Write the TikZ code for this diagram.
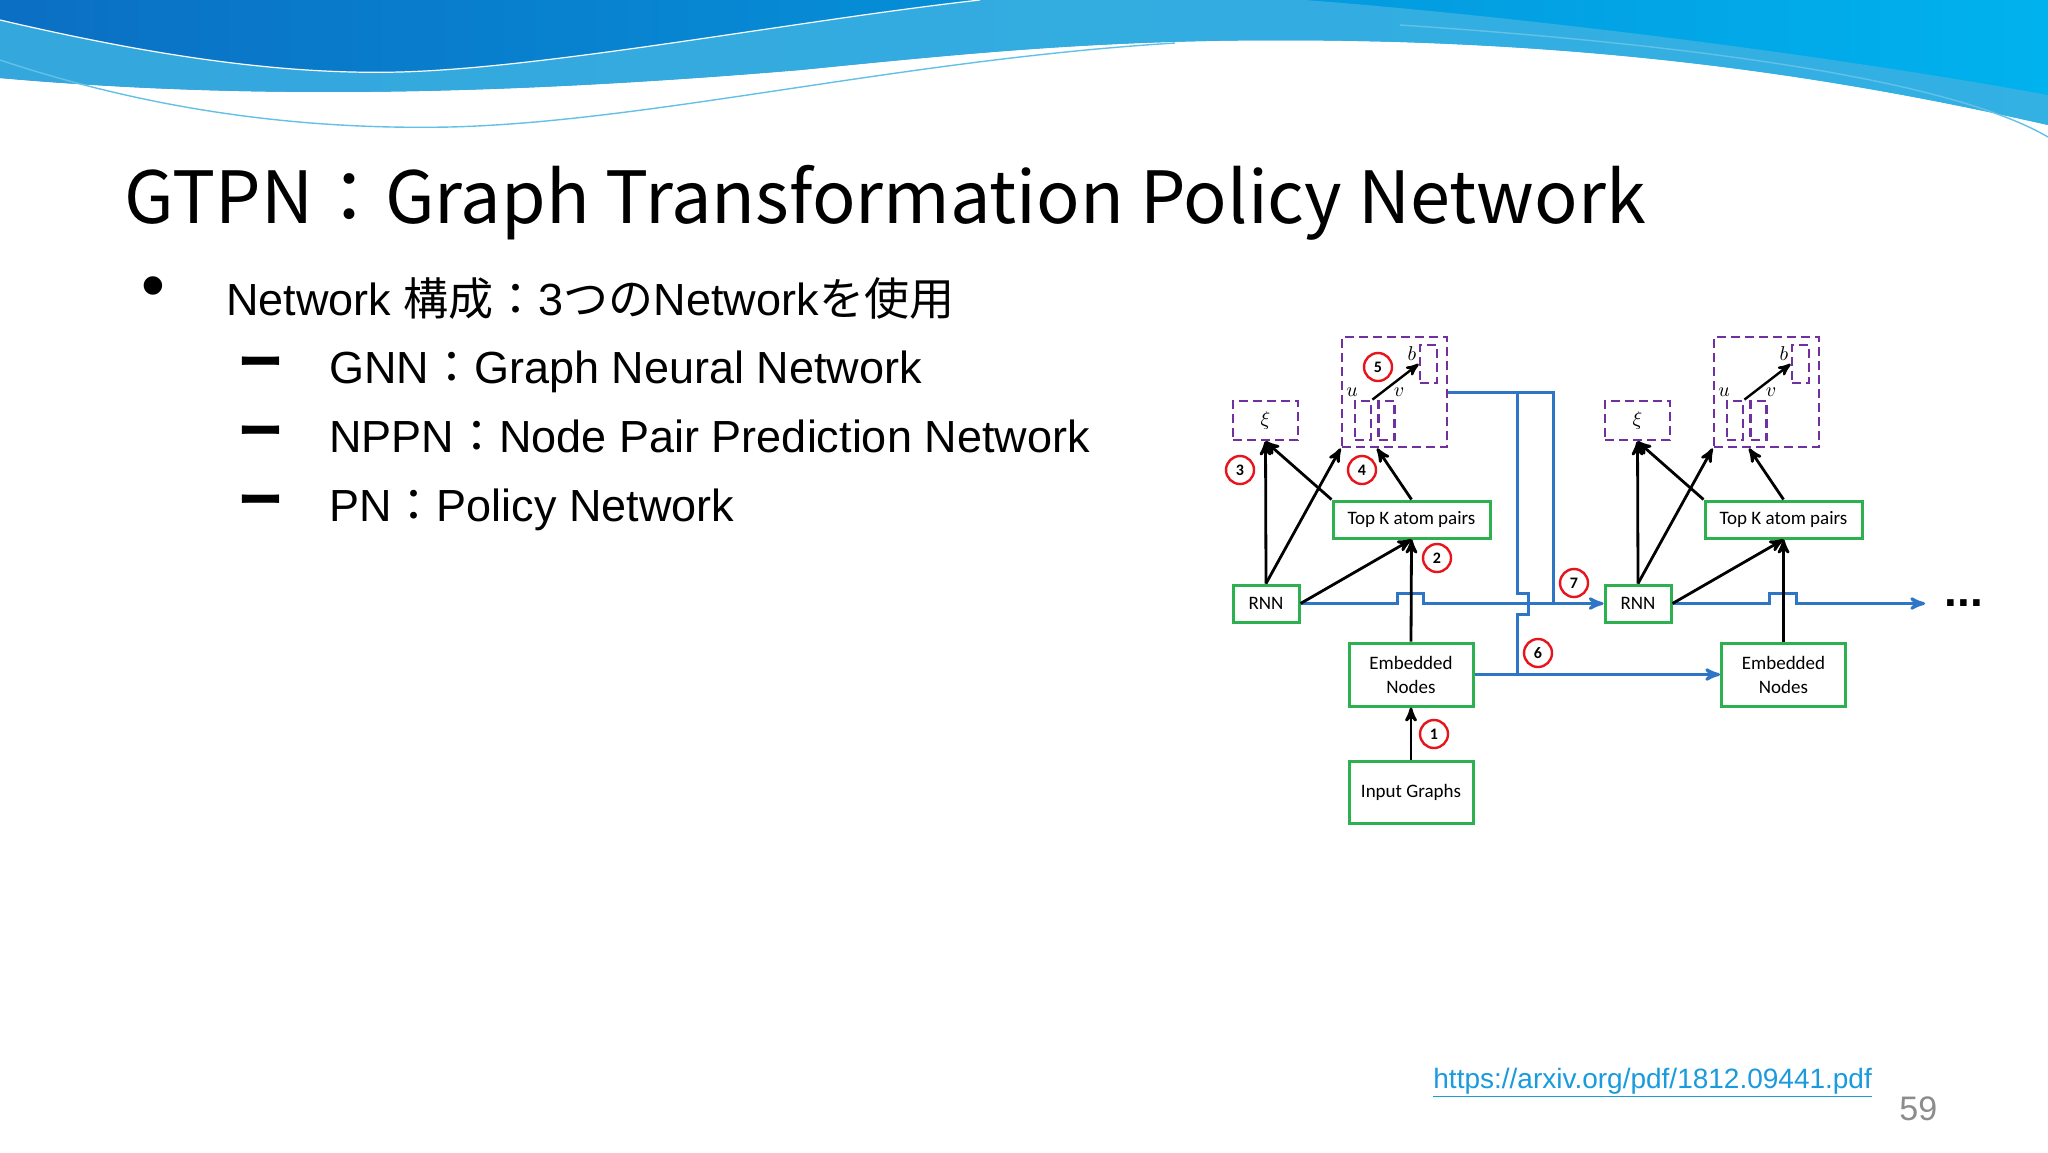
\documentclass[tikz,border=0pt]{standalone}
\usepackage{fontspec}
\setmainfont{Liberation Sans}
\newfontfamily\cjkfont{Noto Sans CJK JP}
\newfontfamily\boxfont{Carlito}
\usepackage{xcolor}
\usepackage{tikz}
\usetikzlibrary{arrows}
\usetikzlibrary{positioning}
\definecolor{boxgreen}{HTML}{2DB050}
\definecolor{pickpurple}{HTML}{7030A0}
\definecolor{flowblue}{HTML}{2E75C6}
\definecolor{numred}{HTML}{E8141B}
\definecolor{linkblue}{HTML}{1A9BDD}
\definecolor{pagegray}{HTML}{8C8C8C}
\definecolor{headdark}{HTML}{0B6FC3}
\definecolor{headlight}{HTML}{00B2EE}
\definecolor{headband}{HTML}{3CB1E2}
\tikzset{
	box node/.style={draw=boxgreen,line width=1.5pt,fill=white,inner sep=0pt,align=center,
		font=\boxfont\fontsize{9.5}{12}\selectfont},
	pick node/.style={draw=pickpurple,line width=1.4pt,dash pattern=on 4.5pt off 2.5pt,
		inner sep=0pt,font=\fontsize{10}{10}\selectfont},
	num node/.style={circle,draw=numred,line width=1.2pt,fill=white,minimum size=14pt,
		inner sep=0pt,font=\boxfont\bfseries\fontsize{8}{8}\selectfont},
	var node/.style={inner sep=0pt,font=\fontsize{10}{10}\selectfont},
	text line/.style={anchor=base west,inner sep=0pt,font=\fontsize{22.5}{22.5}\selectfont},
	dash mark/.style={inner sep=0pt,font=\cjkfont\bfseries\fontsize{22.5}{22.5}\selectfont},
	arr/.style={->,draw=black,line width=1.4pt},
	flow/.style={draw=flowblue,line width=1.5pt}
}

\begin{document}
\begin{tikzpicture}[>=stealth',x=0.5pt,y=-0.5pt]
	\useasboundingbox (0,0) rectangle (2048,1152);
	\fill[white] (0,0) rectangle (2048,1152);
	% header wave
	\shade[left color=headdark,right color=headlight] (0,0) -- (2048,0) -- (2048,125)
		.. controls (1850,80) and (1650,50) .. (1400,42)
		.. controls (1150,35) and (1000,50) .. (800,70)
		.. controls (500,95) and (250,100) .. (0,78) -- cycle;
	\fill[headband,opacity=0.85] (0,20) .. controls (150,55) and (280,75) .. (400,72)
		.. controls (550,68) and (800,20) .. (980,0) -- (1305,0)
		.. controls (1500,15) and (1800,50) .. (2048,95) -- (2048,125)
		.. controls (1850,80) and (1650,50) .. (1400,42)
		.. controls (1150,35) and (1000,50) .. (800,70)
		.. controls (500,95) and (250,100) .. (0,78) -- cycle;
	\draw[white,line width=0.6pt] (0,20) .. controls (150,55) and (280,75) .. (400,72)
		.. controls (550,68) and (800,20) .. (980,0);
	\draw[headband!80!white,line width=0.7pt] (0,60) .. controls (150,110) and (300,130) .. (450,127)
		.. controls (650,122) and (900,60) .. (1175,43);
	\draw[headband!80!white,line width=0.7pt] (1400,25) .. controls (1700,45) and (1950,80) .. (2048,137);

	% title and bullets
	\node[anchor=base west,inner sep=0pt,font=\cjkfont\fontsize{36}{36}\selectfont] (title) at (124,223)
		{GTPN：Graph Transformation Policy Network};
	\node[inner sep=0pt,font=\fontsize{34}{34}\selectfont] (dot1) at (153,293) {•};
	\node[text line] (item1) at (226,315) {Network {\cjkfont 構成：}3{\cjkfont つの}Network{\cjkfont を使用}};
	\node[dash mark] (dash2) at (261,368) {ー};
	\node[text line] (item2) at (329,383) {GNN{\cjkfont ：}Graph Neural Network};
	\node[dash mark] (dash3) at (261,437) {ー};
	\node[text line] (item3) at (329,452) {NPPN{\cjkfont ：}Node Pair Prediction Network};
	\node[dash mark] (dash4) at (261,506) {ー};
	\node[text line] (item4) at (329,521) {PN{\cjkfont ：}Policy Network};

	% first step
	\node[pick node,minimum width=32.5pt,minimum height=19.5pt] (xi1) at (1265.5,420.5) {$\xi$};
	\node[pick node,minimum width=52.5pt,minimum height=55pt] (pick1) at (1394.5,392) {};
	\node[pick node,minimum width=8pt,minimum height=19.5pt] (u1) at (1363,420.5) {};
	\node[pick node,minimum width=8pt,minimum height=19.5pt] (v1) at (1386.5,420.5) {};
	\node[pick node,minimum width=8.5pt,minimum height=19pt] (b1) at (1428.5,364) {};
	\node[var node] (lu1) at (1352,392) {$u$};
	\node[var node] (lv1) at (1399,392) {$v$};
	\node[var node] (lb1) at (1412,354) {$b$};
	\node[box node,minimum width=78.5pt,minimum height=18.5pt] (topk1) at (1411.5,519.5) {Top K atom pairs};
	\node[box node,minimum width=33pt,minimum height=18.5pt] (rnn1) at (1266,603.5) {RNN};
	\node[box node,minimum width=62pt,minimum height=31.5pt] (emb1) at (1411,674.5) {Embedded\\Nodes};
	\node[box node,minimum width=62pt,minimum height=31pt] (input1) at (1411,792.5) {Input Graphs};

	% second step
	\node[pick node,minimum width=32.5pt,minimum height=19.5pt] (xi2) at (1637.5,420.5) {$\xi$};
	\node[pick node,minimum width=52.5pt,minimum height=55pt] (pick2) at (1766.5,392) {};
	\node[pick node,minimum width=8pt,minimum height=19.5pt] (u2) at (1735,420.5) {};
	\node[pick node,minimum width=8pt,minimum height=19.5pt] (v2) at (1758.5,420.5) {};
	\node[pick node,minimum width=8.5pt,minimum height=19pt] (b2) at (1800.5,364) {};
	\node[var node] (lu2) at (1724,392) {$u$};
	\node[var node] (lv2) at (1771,392) {$v$};
	\node[var node] (lb2) at (1784,354) {$b$};
	\node[box node,minimum width=78.5pt,minimum height=18.5pt] (topk2) at (1783.5,519.5) {Top K atom pairs};
	\node[box node,minimum width=33pt,minimum height=18.5pt] (rnn2) at (1638,603.5) {RNN};
	\node[box node,minimum width=62pt,minimum height=31.5pt] (emb2) at (1783.5,674.5) {Embedded\\Nodes};

	\coordinate (split6) at (1517,392);
	\coordinate (join6) at (1517,674.5);
	\coordinate (join7) at (1553,603.5);
	\coordinate (more) at (1925,603.5);
	\node[inner sep=0pt,font=\bfseries\fontsize{23}{23}\selectfont] (dots) at (1964,603) {...};

	% blue flow
	\draw[flow] (pick1.east) -| (join7);
	\draw[flow] (split6) -- (1517,593) -- ++(11,0) -- ++(0,21) -- ++(-11,0) -- (join6);
	\draw[flow,->] (rnn1.east) -- (1397,603.5) -- ++(0,-10) -- ++(26,0) -- ++(0,10) -- (rnn2.west);
	\draw[flow,->] (emb1.east) -- (emb2.west);
	\draw[flow,->] (rnn2.east) -- (1769,603.5) -- ++(0,-10) -- ++(27,0) -- ++(0,10) -- (more);

	% black arrows
	\draw[arr] (rnn1.north) -- (xi1.south);
	\draw[arr] (rnn1.north) -- (pick1.south west);
	\draw[arr] (rnn1.east) -- (topk1.south);
	\draw[arr] (topk1.north west) -- (xi1.south);
	\draw[arr] (topk1.north) -- ([xshift=-8.75pt]pick1.south);
	\draw[arr,line width=1.2pt] (u1.north east) -- (b1.west);
	\draw[arr] (emb1.north) -- (topk1.south);
	\draw[arr] (input1.north) -- (emb1.south);
	\draw[arr] (rnn2.north) -- (xi2.south);
	\draw[arr] (rnn2.north) -- (pick2.south west);
	\draw[arr] (rnn2.east) -- (topk2.south);
	\draw[arr] (topk2.north west) -- (xi2.south);
	\draw[arr] (topk2.north) -- ([xshift=-8.75pt]pick2.south);
	\draw[arr,line width=1.2pt] (u2.north east) -- (b2.west);
	\draw[arr] (emb2.north) -- (topk2.south);

	% step numbers
	\node[num node] (n1) at (1434,734) {1};
	\node[num node] (n2) at (1437,558) {2};
	\node[num node] (n3) at (1240,470) {3};
	\node[num node] (n4) at (1362,470) {4};
	\node[num node] (n5) at (1378,367) {5};
	\node[num node] (n6) at (1538,653) {6};
	\node[num node] (n7) at (1574,583) {7};

	% footer
	\node[anchor=base west,inner sep=0pt,text=linkblue,font=\fontsize{14}{14}\selectfont] (link) at (1433,1088)
		{\underline{https://arxiv.org/pdf/1812.09441.pdf}};
	\node[anchor=base west,inner sep=0pt,text=pagegray,font=\fontsize{17}{17}\selectfont] (page) at (1899,1120) {59};
\end{tikzpicture}
\end{document}
